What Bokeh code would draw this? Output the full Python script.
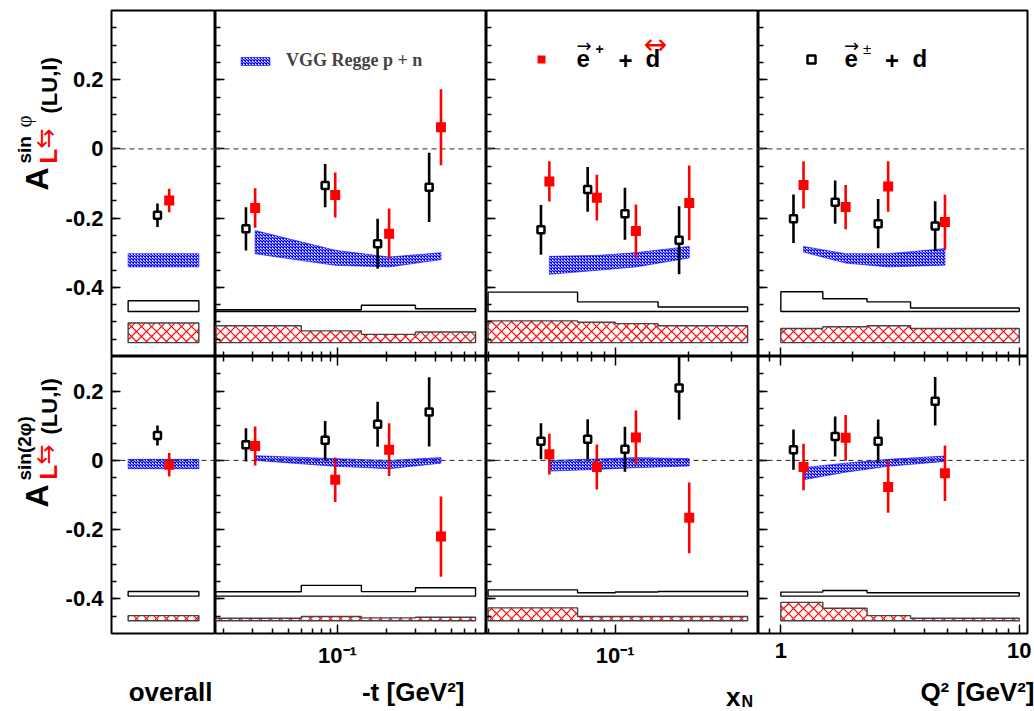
import numpy as np
from bokeh.plotting import figure
from bokeh.layouts import gridplot
from bokeh.models import (FixedTicker, LogAxis, Span, Label, Legend, LegendItem,
                          Range1d, CustomJSTickFormatter)
from bokeh.embed import file_html
from bokeh.resources import INLINE

# ------------------------------------------------------------------ data
# kinematic bin centres: black = e(+/-) + d, red = e+ + tensor-polarized d
t_black = [0.0275, 0.084, 0.176, 0.364]
t_red = [0.0313, 0.0968, 0.207, 0.43]
xn_black = [0.0495, 0.077, 0.1096, 0.183]
xn_red = [0.0536, 0.084, 0.1216, 0.2014]
q2_black = [1.13, 1.69, 2.56, 4.44]
q2_red = [1.245, 1.87, 2.82, 4.88]
overall_black_x = [0.442]
overall_red_x = [0.555]
overall_band_x = [0.16, 0.84]

# bin boundaries for the systematic bands
t_edges = [0.0179, 0.06, 0.14, 0.30, 0.70]
xn_edges = [0.03, 0.07, 0.10, 0.15, 0.35]
q2_edges = [1.0, 1.5, 2.3, 3.5, 10.0]
overall_edges = [0.16, 0.84]

# ---- A_LU,I  sin(phi)
s1_overall_black = [-0.192]; s1_overall_black_err = [0.034]
s1_overall_red = [-0.149]; s1_overall_red_err = [0.034]
s1_t_black = [-0.231, -0.106, -0.274, -0.111]; s1_t_black_err = [0.0625, 0.0625, 0.072, 0.100]
s1_t_red = [-0.171, -0.133, -0.245, 0.0625]; s1_t_red_err = [0.057, 0.065, 0.073, 0.110]
s1_xn_black = [-0.234, -0.117, -0.1875, -0.264]; s1_xn_black_err = [0.072, 0.065, 0.075, 0.098]
s1_xn_red = [-0.094, -0.141, -0.2375, -0.156]; s1_xn_red_err = [0.058, 0.066, 0.077, 0.108]
s1_q2_black = [-0.202, -0.154, -0.216, -0.223]; s1_q2_black_err = [0.070, 0.0625, 0.071, 0.072]
s1_q2_red = [-0.104, -0.168, -0.109, -0.2115]; s1_q2_red_err = [0.068, 0.064, 0.073, 0.079]
# VGG Regge p+n model band (upper / lower edge at the red bin centres)
s1_overall_vgg_hi = [-0.303]; s1_overall_vgg_lo = [-0.341]
s1_t_vgg_hi = [-0.236, -0.293, -0.3125, -0.300]; s1_t_vgg_lo = [-0.303, -0.3365, -0.341, -0.320]
s1_xn_vgg_hi = [-0.3106, -0.308, -0.300, -0.282]; s1_xn_vgg_lo = [-0.3625, -0.351, -0.341, -0.315]
s1_q2_vgg_hi = [-0.282, -0.303, -0.303, -0.288]; s1_q2_vgg_lo = [-0.298, -0.330, -0.341, -0.336]
# systematic uncertainty bands (base level + height)
s1_sys_black_base = -0.47
s1_sys_red_base = -0.56
s1_overall_sys_black = [0.031]; s1_overall_sys_red = [0.057]
s1_t_sys_black = [0.005, 0.005, 0.018, 0.008]; s1_t_sys_red = [0.049, 0.034, 0.024, 0.031]
s1_xn_sys_black = [0.056, 0.028, 0.028, 0.013]; s1_xn_sys_red = [0.063, 0.059, 0.055, 0.049]
s1_q2_sys_black = [0.057, 0.037, 0.028, 0.010]; s1_q2_sys_red = [0.041, 0.046, 0.049, 0.041]

# ---- A_LU,I  sin(2phi)
s2_overall_black = [0.072]; s2_overall_black_err = [0.029]
s2_overall_red = [-0.0125]; s2_overall_red_err = [0.034]
s2_t_black = [0.045, 0.058, 0.104, 0.140]; s2_t_black_err = [0.048, 0.056, 0.065, 0.100]
s2_t_red = [0.0415, -0.056, 0.031, -0.220]; s2_t_red_err = [0.056, 0.064, 0.076, 0.116]
s2_xn_black = [0.055, 0.061, 0.032, 0.209]; s2_xn_black_err = [0.052, 0.058, 0.065, 0.092]
s2_xn_red = [0.018, -0.019, 0.066, -0.166]; s2_xn_red_err = [0.059, 0.065, 0.078, 0.102]
s2_q2_black = [0.031, 0.069, 0.055, 0.171]; s2_q2_black_err = [0.058, 0.058, 0.063, 0.070]
s2_q2_red = [-0.019, 0.065, -0.077, -0.037]; s2_q2_red_err = [0.067, 0.066, 0.074, 0.080]
s2_overall_vgg_hi = [0.003]; s2_overall_vgg_lo = [-0.024]
s2_t_vgg_hi = [0.0135, 0.005, 0.0, 0.008]; s2_t_vgg_lo = [0.0, -0.017, -0.024, -0.008]
s2_xn_vgg_hi = [0.0, 0.004, 0.008, 0.005]; s2_xn_vgg_lo = [-0.031, -0.026, -0.021, -0.016]
s2_q2_vgg_hi = [-0.021, -0.008, 0.003, 0.0125]; s2_q2_vgg_lo = [-0.056, -0.034, -0.017, -0.003]
s2_sys_black_base = -0.392
s2_sys_red_base = -0.463
s2_overall_sys_black = [0.0135]; s2_overall_sys_red = [0.0145]
s2_t_sys_black = [0.0125, 0.031, 0.013, 0.024]; s2_t_sys_red = [0.007, 0.012, 0.008, 0.010]
s2_xn_sys_black = [0.018, 0.0096, 0.012, 0.0135]; s2_xn_sys_red = [0.037, 0.012, 0.012, 0.012]
s2_q2_sys_black = [0.0116, 0.016, 0.0096, 0.0096]; s2_q2_sys_red = [0.053, 0.036, 0.0145, 0.007]

# tick values
y_major = [-0.4, -0.2, 0.0, 0.2]
log_major = [0.01, 0.1, 1, 10]
log_minor = [k * 10.0 ** e for e in range(-2, 2) for k in range(2, 10)]
y_minor_top = [round(v, 2) for v in np.arange(-0.55, 0.36, 0.05)]
y_minor_bot = [round(v, 2) for v in np.arange(-0.45, 0.26, 0.05)]

# ------------------------------------------------------------------ layout / style
FONT = "Liberation Sans"
RED = "#ff0000"
BLUE = "#0000ff"
COLS = ["overall", "t", "xn", "q2"]
X_RANGE = {"overall": (0.0, 1.0), "t": (0.0179, 0.817), "xn": (0.02956, 0.388), "q2": (0.806, 10.83)}
Y_RANGE = [(-0.6, 0.4), (-0.5, 0.3)]
FW = {"overall": 104, "t": 271, "xn": 272, "q2": 269}
FH = [346, 277]
FRAME_LEFT = [109, 213, 484, 756]
FRAME_BOTTOM = [356, 633]
TITLE_W = 62
STRIP_H = 38
BOTTOM_BORDER = 40

yfmt = CustomJSTickFormatter(code="return Math.abs(tick) < 1e-9 ? '0' : tick.toFixed(1);")
xfmt = CustomJSTickFormatter(code="""
const m = {"0.1": "10\u207b\u00b9", "1": "1", "10": "10"};
const s = String(tick);
return (s in m) ? m[s] : "";
""")
blank = CustomJSTickFormatter(code="return '';")


def style_axis(ax, labels, fmt, standoff):
    ax.axis_line_color = None
    ax.major_tick_in = 9
    ax.major_tick_out = 0
    ax.minor_tick_in = 5
    ax.minor_tick_out = 0
    ax.major_tick_line_width = 1.5
    ax.minor_tick_line_width = 1.5
    ax.major_tick_line_color = "black"
    ax.minor_tick_line_color = "black"
    if labels:
        ax.formatter = fmt
        ax.major_label_text_font = FONT
        ax.major_label_text_font_style = "bold"
        ax.major_label_text_font_size = "22px"
        ax.major_label_text_color = "black"
        ax.major_label_standoff = standoff
    else:
        ax.formatter = blank
        ax.major_label_text_font_size = "0px"
        ax.major_label_standoff = 0


def step_poly(edges, base, heights):
    xs, ys = [edges[0]], [base]
    for i, h in enumerate(heights):
        xs += [edges[i], edges[i + 1]]
        ys += [base + h, base + h]
    xs.append(edges[-1])
    ys.append(base)
    return xs, ys


# screen <-> data helpers (frame pixels) used for the cross-hatch of the red bands
def px_x(v, name):
    a, b = X_RANGE[name]
    if name == "overall":
        return (v - a) / (b - a) * FW[name]
    return (np.log10(v) - np.log10(a)) / (np.log10(b) - np.log10(a)) * FW[name]


def data_x(P, name):
    a, b = X_RANGE[name]
    if name == "overall":
        return float(a + P / FW[name] * (b - a))
    return float(10 ** (np.log10(a) + P / FW[name] * (np.log10(b) - np.log10(a))))


def px_y(v, row):
    a, b = Y_RANGE[row]
    return (v - a) / (b - a) * FH[row]


def data_y(P, row):
    a, b = Y_RANGE[row]
    return float(a + P / FH[row] * (b - a))


def hatch_polys(edges, base, heights, name, row, step=10.0, half=0.8):
    """thin filled strips (1 px wide, +/-45 deg) forming a cross-hatch inside each bin box"""
    segs = []
    for i, h in enumerate(heights):
        Xa, Xb = px_x(edges[i], name), px_x(edges[i + 1], name)
        Ya, Yb = px_y(base, row), px_y(base + h, row)
        for c in np.arange(np.floor((Ya - Xb) / step) * step, Yb - Xa + step, step):
            lo, hi = max(Xa, Ya - c), min(Xb, Yb - c)
            if hi - lo > 0.3:
                segs.append((lo, lo + c, hi, hi + c))
        for c in np.arange(np.floor((Ya + Xa) / step) * step, Yb + Xb + step, step):
            lo, hi = max(Xa, c - Yb), min(Xb, c - Ya)
            if hi - lo > 0.3:
                segs.append((lo, c - lo, hi, c - hi))
    xs, ys = [], []
    for (x0, y0, x1, y1) in segs:
        xs.append([data_x(x0, name), data_x(x1, name), data_x(x1, name), data_x(x0, name)])
        ys.append([data_y(y0 - half, row), data_y(y1 - half, row),
                   data_y(y1 + half, row), data_y(y0 + half, row)])
    return xs, ys


def put(p, left, bottom, X, Y, text, size, color="black", style="bold", font=FONT,
        align="left", baseline="middle", angle=0.0):
    p.add_layout(Label(x=X - left, y=bottom - Y,
                       x_units="screen", y_units="screen", text=text,
                       text_font=font, text_font_size=f"{size}px", text_font_style=style,
                       text_color=color, text_align=align, text_baseline=baseline,
                       angle=angle))


def blank_fig(w, h, **borders):
    f = figure(frame_width=w, frame_height=h, x_range=Range1d(0, 1), y_range=Range1d(0, 1),
               x_axis_type=None, y_axis_type=None, output_backend="svg", toolbar_location=None,
               min_border_left=borders.get("left", 0), min_border_right=borders.get("right", 0),
               min_border_top=borders.get("top", 0), min_border_bottom=borders.get("bottom", 0))
    f.grid.visible = False
    f.outline_line_color = None
    f.background_fill_color = "white"
    f.border_fill_color = "white"
    return f


DATA = {
    (0, "overall"): dict(bx=overall_black_x, by=s1_overall_black, be=s1_overall_black_err,
                         rx=overall_red_x, ry=s1_overall_red, re=s1_overall_red_err,
                         vx=overall_band_x, vhi=s1_overall_vgg_hi * 2, vlo=s1_overall_vgg_lo * 2,
                         edges=overall_edges, sb=s1_overall_sys_black, sr=s1_overall_sys_red),
    (0, "t"): dict(bx=t_black, by=s1_t_black, be=s1_t_black_err, rx=t_red, ry=s1_t_red, re=s1_t_red_err,
                   vx=t_red, vhi=s1_t_vgg_hi, vlo=s1_t_vgg_lo, edges=t_edges,
                   sb=s1_t_sys_black, sr=s1_t_sys_red),
    (0, "xn"): dict(bx=xn_black, by=s1_xn_black, be=s1_xn_black_err, rx=xn_red, ry=s1_xn_red, re=s1_xn_red_err,
                    vx=xn_red, vhi=s1_xn_vgg_hi, vlo=s1_xn_vgg_lo, edges=xn_edges,
                    sb=s1_xn_sys_black, sr=s1_xn_sys_red),
    (0, "q2"): dict(bx=q2_black, by=s1_q2_black, be=s1_q2_black_err, rx=q2_red, ry=s1_q2_red, re=s1_q2_red_err,
                    vx=q2_red, vhi=s1_q2_vgg_hi, vlo=s1_q2_vgg_lo, edges=q2_edges,
                    sb=s1_q2_sys_black, sr=s1_q2_sys_red),
    (1, "overall"): dict(bx=overall_black_x, by=s2_overall_black, be=s2_overall_black_err,
                         rx=overall_red_x, ry=s2_overall_red, re=s2_overall_red_err,
                         vx=overall_band_x, vhi=s2_overall_vgg_hi * 2, vlo=s2_overall_vgg_lo * 2,
                         edges=overall_edges, sb=s2_overall_sys_black, sr=s2_overall_sys_red),
    (1, "t"): dict(bx=t_black, by=s2_t_black, be=s2_t_black_err, rx=t_red, ry=s2_t_red, re=s2_t_red_err,
                   vx=t_red, vhi=s2_t_vgg_hi, vlo=s2_t_vgg_lo, edges=t_edges,
                   sb=s2_t_sys_black, sr=s2_t_sys_red),
    (1, "xn"): dict(bx=xn_black, by=s2_xn_black, be=s2_xn_black_err, rx=xn_red, ry=s2_xn_red, re=s2_xn_red_err,
                    vx=xn_red, vhi=s2_xn_vgg_hi, vlo=s2_xn_vgg_lo, edges=xn_edges,
                    sb=s2_xn_sys_black, sr=s2_xn_sys_red),
    (1, "q2"): dict(bx=q2_black, by=s2_q2_black, be=s2_q2_black_err, rx=q2_red, ry=s2_q2_red, re=s2_q2_red_err,
                    vx=q2_red, vhi=s2_q2_vgg_hi, vlo=s2_q2_vgg_lo, edges=q2_edges,
                    sb=s2_q2_sys_black, sr=s2_q2_sys_red),
}
SYS_BASE = [(s1_sys_black_base, s1_sys_red_base), (s2_sys_black_base, s2_sys_red_base)]

figs = [[None] * 4 for _ in range(2)]
handles = {}
for row in range(2):
    for col, name in enumerate(COLS):
        is_log = name != "overall"
        p = figure(frame_width=FW[name], frame_height=FH[row],
                   x_range=Range1d(*X_RANGE[name]), y_range=Range1d(*Y_RANGE[row]),
                   x_axis_type="log" if is_log else None, y_axis_type="linear",
                   output_backend="svg", toolbar_location=None,
                   min_border_left=47 if col == 0 else 0,
                   min_border_right=9 if col == 3 else 0,
                   min_border_top=10 if row == 0 else 0,
                   min_border_bottom=BOTTOM_BORDER if row == 1 else 0)
        p.grid.visible = False
        p.outline_line_color = "black"
        p.outline_line_width = 2
        p.background_fill_color = "white"
        p.border_fill_color = "white"

        ya = p.yaxis[0]
        ya.ticker = FixedTicker(ticks=y_major, minor_ticks=y_minor_top if row == 0 else y_minor_bot)
        style_axis(ya, col == 0, yfmt, 8)
        if is_log:
            xa = p.xaxis[0]
            xa.ticker = FixedTicker(ticks=log_major, minor_ticks=log_minor)
            style_axis(xa, row == 1, xfmt, 9)
            if row == 1:
                top = LogAxis(ticker=FixedTicker(ticks=log_major, minor_ticks=log_minor))
                style_axis(top, False, blank, 0)
                p.add_layout(top, "above")

        d = DATA[(row, name)]
        p.add_layout(Span(location=0, dimension="width", line_color="#555555" if row == 0 else "#222222",
                          line_dash="5 4", line_width=1.3 if row == 0 else 1.0))
        band = p.patch(d["vx"] + d["vx"][::-1], d["vhi"] + d["vlo"][::-1],
                       fill_color=None, hatch_pattern="diagonal_cross", hatch_color=BLUE,
                       hatch_scale=3, hatch_weight=1.3, line_color=BLUE, line_width=0.6)
        bb, rb = SYS_BASE[row]
        sx, sy = step_poly(d["edges"], bb, d["sb"])
        p.patch(sx, sy, fill_color=None, line_color="black", line_width=1.4)
        hx, hy = hatch_polys(d["edges"], rb, d["sr"], name, row)
        p.patches(hx, hy, fill_color=RED, fill_alpha=1.0, line_color=None)
        sx, sy = step_poly(d["edges"], rb, d["sr"])
        p.patch(sx, sy, fill_color=None, line_color="#444444", line_width=1.4)

        by, be = np.array(d["by"]), np.array(d["be"])
        ry, re = np.array(d["ry"]), np.array(d["re"])
        p.segment(d["bx"], by - be, d["bx"], by + be, line_color="black", line_width=2.6)
        blk = p.scatter(d["bx"], d["by"], marker="square", size=7, fill_color="white",
                        line_color="black", line_width=2.5)
        p.segment(d["rx"], ry - re, d["rx"], ry + re, line_color=RED, line_width=2.6)
        red = p.scatter(d["rx"], d["ry"], marker="square", size=10, fill_color=RED, line_color=None)
        handles[(row, name)] = (band, blk, red)
        figs[row][col] = p

# ------------------------------------------------------------------ legends
common = dict(padding=0, spacing=0, margin=0, border_line_color=None, background_fill_alpha=0,
              label_text_font_style="bold")
lg1 = Legend(items=[LegendItem(label="VGG Regge p + n", renderers=[handles[(0, "t")][0]])],
             location=(22, 285), glyph_width=36, glyph_height=10, label_height=10, label_standoff=13,
             label_text_font="Liberation Serif", label_text_font_size="18px", **common)
figs[0][1].add_layout(lg1)
lg2 = Legend(items=[LegendItem(label="", renderers=[handles[(0, "xn")][2]])],
             location=(45, 287), glyph_width=20, glyph_height=20, label_height=20, label_standoff=0,
             label_text_font=FONT, label_text_font_size="10px", **common)
figs[0][2].add_layout(lg2)
lg3 = Legend(items=[LegendItem(label="", renderers=[handles[(0, "q2")][1]])],
             location=(43, 287), glyph_width=20, glyph_height=20, label_height=20, label_standoff=0,
             label_text_font=FONT, label_text_font_size="10px", **common)
figs[0][3].add_layout(lg3)

# legend texts
p, L, B = figs[0][2], FRAME_LEFT[2], FRAME_BOTTOM[0]
put(p, L, B, 574, 57.7, "e", 24)
put(p, L, B, 581.5, 45, "\u2192", 18, style="normal", font="DejaVu Sans", align="center")
put(p, L, B, 597, 48, "+", 14, align="center")
put(p, L, B, 623, 60, "+", 24, align="center")
put(p, L, B, 643, 57.7, "d", 24)
put(p, L, B, 653, 44, "\u2194", 28, color=RED, style="normal", font="DejaVu Sans", align="center")
p, L, B = figs[0][3], FRAME_LEFT[3], FRAME_BOTTOM[0]
put(p, L, B, 842, 57.7, "e", 24)
put(p, L, B, 849, 45, "\u2192", 18, style="normal", font="DejaVu Sans", align="center")
put(p, L, B, 864.5, 48, "\u00b1", 15, style="normal", align="center")
put(p, L, B, 889.5, 60, "+", 24, align="center")
put(p, L, B, 910, 57.7, "d", 24)

# ------------------------------------------------------------------ y-axis title column
ang = np.pi / 2
tt = blank_fig(TITLE_W, FH[0], top=10)
put(tt, 0, FRAME_BOTTOM[0], 36, 190, "A", 32, angle=ang)
put(tt, 0, FRAME_BOTTOM[0], 23.5, 163, "sin", 19, angle=ang)
put(tt, 0, FRAME_BOTTOM[0], 23, 127, "\u03c6", 21, style="normal", font="Liberation Serif", angle=ang)
put(tt, 0, FRAME_BOTTOM[0], 47.5, 163, "L", 24, color=RED, angle=ang)
put(tt, 0, FRAME_BOTTOM[0], 44, 148, "\u21c6", 24, color=RED, style="normal", font="DejaVu Sans", angle=ang)
put(tt, 0, FRAME_BOTTOM[0], 49.4, 113, "(LU,I)", 22, angle=ang)
tb = blank_fig(TITLE_W, FH[1], bottom=BOTTOM_BORDER)
put(tb, 0, FRAME_BOTTOM[1], 36, 507, "A", 32, angle=ang)
put(tb, 0, FRAME_BOTTOM[1], 23.5, 480, "sin(2\u03c6)", 19, angle=ang)
put(tb, 0, FRAME_BOTTOM[1], 47.5, 479, "L", 24, color=RED, angle=ang)
put(tb, 0, FRAME_BOTTOM[1], 44, 464, "\u21c6", 24, color=RED, style="normal", font="DejaVu Sans", angle=ang)
put(tb, 0, FRAME_BOTTOM[1], 49.4, 434, "(LU,I)", 22, angle=ang)

# ------------------------------------------------------------------ x-axis title strip
H = 711
s_empty = blank_fig(TITLE_W, STRIP_H)
s0 = blank_fig(FW["overall"], STRIP_H, left=47)
put(s0, FRAME_LEFT[0], H, 210, 691, "overall", 26, align="right")
s1 = blank_fig(FW["t"], STRIP_H)
put(s1, FRAME_LEFT[1], H, 462, 691, "-t [GeV\u00b2]", 26, align="right")
s2 = blank_fig(FW["xn"], STRIP_H)
put(s2, FRAME_LEFT[2], H, 738, 696, "x", 26, align="right")
put(s2, FRAME_LEFT[2], H, 739, 701, "N", 16)
s3 = blank_fig(FW["q2"] + 9, STRIP_H)
put(s3, FRAME_LEFT[3], H, 1032, 691, "Q\u00b2 [GeV\u00b2]", 26, align="right")

grid = gridplot([[tt] + figs[0], [tb] + figs[1], [s_empty, s0, s1, s2, s3]], toolbar_location=None)
open("out.html", "w").write(file_html(grid, INLINE))
